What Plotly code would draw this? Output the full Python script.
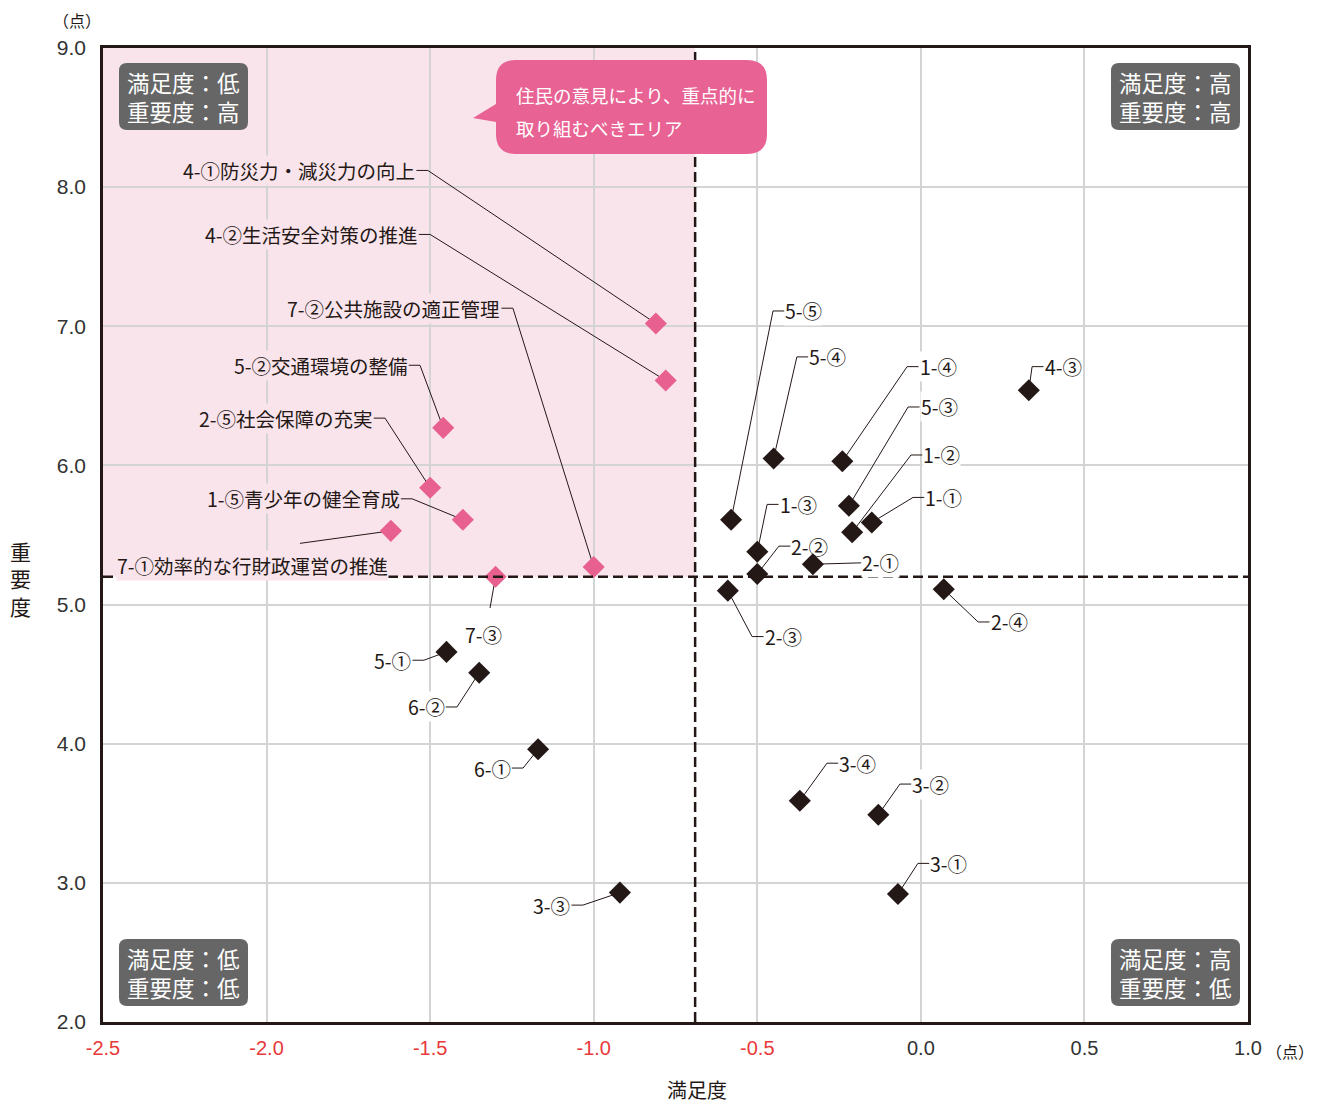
import plotly.graph_objects as go

# 施策ごとの満足度・重要度（点）
names = ["4-①", "4-②", "7-②", "5-②", "2-⑤", "1-⑤", "7-①", "7-③",
         "5-⑤", "5-④", "1-④", "4-③", "5-③", "1-②", "1-①", "1-③",
         "2-②", "2-①", "2-③", "2-④", "5-①", "6-②", "6-①", "3-④",
         "3-②", "3-①", "3-③"]
satisfaction = [-0.81, -0.78, -1.00, -1.46, -1.50, -1.40, -1.62, -1.30,
                -0.58, -0.45, -0.24, 0.33, -0.22, -0.21, -0.15, -0.50,
                -0.50, -0.33, -0.59, 0.07, -1.45, -1.35, -1.17, -0.37,
                -0.13, -0.07, -0.92]
importance = [7.02, 6.61, 5.27, 6.27, 5.84, 5.61, 5.53, 5.20,
              5.61, 6.05, 6.03, 6.54, 5.71, 5.52, 5.59, 5.38,
              5.22, 5.29, 5.10, 5.11, 4.66, 4.51, 3.96, 3.59,
              3.49, 2.92, 2.93]
full_names = {
    "4-①": "4-①防災力・減災力の向上",
    "4-②": "4-②生活安全対策の推進",
    "7-②": "7-②公共施設の適正管理",
    "5-②": "5-②交通環境の整備",
    "2-⑤": "2-⑤社会保障の充実",
    "1-⑤": "1-⑤青少年の健全育成",
    "7-①": "7-①効率的な行財政運営の推進",
}
highlight = ["4-①", "4-②", "7-②", "5-②", "2-⑤", "1-⑤", "7-①", "7-③"]

mean_sat = -0.69
mean_imp = 5.2

x_ticks = [-2.5, -2.0, -1.5, -1.0, -0.5, 0.0, 0.5, 1.0]
y_ticks = [2.0, 3.0, 4.0, 5.0, 6.0, 7.0, 8.0, 9.0]

# label elbow positions (data coords) and side of text
label_pos = {
    "4-①": (-1.507, 8.12, "l"), "4-②": (-1.50, 7.66, "l"),
    "7-②": (-1.247, 7.13, "l"), "5-②": (-1.531, 6.72, "l"),
    "2-⑤": (-1.638, 6.34, "l"), "1-⑤": (-1.555, 5.76, "l"),
    "7-①": (-1.898, 5.44, "b"), "7-③": (-1.317, 4.975, "b"),
    "5-⑤": (-0.452, 7.11, "r"), "5-④": (-0.379, 6.78, "r"),
    "1-④": (-0.042, 6.71, "r"), "4-③": (0.340, 6.71, "r"),
    "5-③": (-0.039, 6.42, "r"), "1-②": (-0.030, 6.075, "r"),
    "1-①": (-0.024, 5.77, "r"), "1-③": (-0.470, 5.72, "r"),
    "2-②": (-0.434, 5.42, "r"), "2-①": (-0.217, 5.30, "r"),
    "2-③": (-0.516, 4.77, "r"), "2-④": (0.175, 4.875, "r"),
    "5-①": (-1.519, 4.60, "l"), "6-②": (-1.418, 4.264, "l"),
    "6-①": (-1.216, 3.825, "l"), "3-④": (-0.287, 3.86, "r"),
    "3-②": (-0.064, 3.71, "r"), "3-①": (-0.009, 3.14, "r"),
    "3-③": (-1.033, 2.84, "l"),
}
below_shift = {"7-①": (-47, -7), "7-③": (-7, -11)}
no_bg = ["2-②"]

PINK = "#e8608f"
PINK_BG = "#fae4eb"
DARK = "#231815"
RED = "#e83a3a"
TICK = 0.035

# page offset of the plot div (body margin)
OFF = 8
W, H = 1322 - OFF, 1104 - OFF

# pixel helpers for decorations (reference page pixels)
X0, X1, PX0, PX1 = -2.5, 1.0, 103, 1248
Y0, Y1, PY0, PY1 = 2.0, 9.0, 1022, 48


def px_x(p):
    return X0 + (p - PX0) * (X1 - X0) / (PX1 - PX0)


def px_y(p):
    return Y0 + (p - PY0) * (Y1 - Y0) / (PY1 - PY0)


def paper_x(p):
    return (p - PX0) / (PX1 - PX0)


def paper_y(p):
    return (PY0 - p) / (PY0 - PY1)


def rounded_path(l, t, r, b, rad, tail=None):
    xs, ys = px_x, px_y
    pts = [f"M {xs(l + rad)},{ys(t)}", f"L {xs(r - rad)},{ys(t)}",
           f"Q {xs(r)},{ys(t)} {xs(r)},{ys(t + rad)}", f"L {xs(r)},{ys(b - rad)}",
           f"Q {xs(r)},{ys(b)} {xs(r - rad)},{ys(b)}", f"L {xs(l + rad)},{ys(b)}",
           f"Q {xs(l)},{ys(b)} {xs(l)},{ys(b - rad)}"]
    if tail:
        (ty0, tx, ty, ty1) = tail
        pts += [f"L {xs(l)},{ys(ty1)}", f"L {xs(tx)},{ys(ty)}", f"L {xs(l)},{ys(ty0)}"]
    pts += [f"L {xs(l)},{ys(t + rad)}", f"Q {xs(l)},{ys(t)} {xs(l + rad)},{ys(t)}", "Z"]
    return " ".join(pts)


fig = go.Figure()

# leader lines
lx, ly = [], []
for n, sx, sy in zip(names, satisfaction, importance):
    ex, ey, side = label_pos[n]
    lx += [sx, ex]
    ly += [sy, ey]
    if side == "r":
        lx.append(ex + TICK)
        ly.append(ey)
    elif side == "l":
        lx.append(ex - TICK)
        ly.append(ey)
    lx.append(None)
    ly.append(None)
fig.add_trace(go.Scatter(x=lx, y=ly, mode="lines",
                         line=dict(color=DARK, width=1), hoverinfo="skip",
                         showlegend=False))

colors = [PINK if n in highlight else DARK for n in names]
fig.add_trace(go.Scatter(x=satisfaction, y=importance, mode="markers",
                         marker=dict(symbol="diamond", size=17, color=colors,
                                     line=dict(width=0)),
                         text=names, showlegend=False))

# labels
for n in names:
    ex, ey, side = label_pos[n]
    txt = full_names.get(n, n)
    in_pink = ex < mean_sat and ey > mean_imp
    bg = PINK_BG if in_pink else "white"
    if n in no_bg:
        bg = "rgba(0,0,0,0)"
    common = dict(text=txt, showarrow=False, font=dict(size=19.5, color=DARK),
                  bgcolor=bg, borderpad=0)
    if side == "r":
        fig.add_annotation(x=ex + TICK, y=ey, xanchor="left", yanchor="middle", **common)
    elif side == "l":
        fig.add_annotation(x=ex - TICK, y=ey, xanchor="right", yanchor="middle", **common)
    else:
        dx, dy = below_shift[n]
        fig.add_annotation(x=ex, y=ey, xanchor="center", yanchor="top",
                           xshift=dx, yshift=dy, **common)

shapes = [
    dict(type="rect", x0=X0, x1=mean_sat, y0=mean_imp, y1=Y1, fillcolor=PINK_BG,
         line=dict(width=0), layer="below"),
    dict(type="line", x0=mean_sat, x1=mean_sat, y0=Y0, y1=Y1,
         line=dict(color=DARK, width=2.5, dash="10px,5px")),
    dict(type="line", x0=X0, x1=X1, y0=mean_imp, y1=mean_imp,
         line=dict(color=DARK, width=2.5, dash="10px,5px")),
]

# quadrant boxes
quads = [((119, 63, 248, 130), "満足度：低<br>重要度：高"),
         ((1111, 63, 1240, 130), "満足度：高<br>重要度：高"),
         ((119, 939, 248, 1006), "満足度：低<br>重要度：低"),
         ((1111, 939, 1240, 1006), "満足度：高<br>重要度：低")]
for (l, t, r, b), txt in quads:
    shapes.append(dict(type="path", path=rounded_path(l, t, r, b, 8),
                       fillcolor="#666666", line=dict(width=0)))
    fig.add_annotation(x=px_x((l + r) / 2), y=px_y((t + b) / 2), text=txt,
                       showarrow=False, font=dict(size=22.5, color="white"),
                       align="left")

# callout
shapes.append(dict(type="path",
                   path=rounded_path(496, 60, 767, 154, 20, tail=(104, 473, 118, 122)),
                   fillcolor="#e86294", line=dict(width=0)))
fig.add_annotation(x=px_x(514), y=px_y(95), text="住民の意見により、重点的に",
                   xanchor="left", showarrow=False, font=dict(size=18.5, color="white"))
fig.add_annotation(x=px_x(514), y=px_y(128), text="取り組むべきエリア",
                   xanchor="left", showarrow=False, font=dict(size=18.5, color="white"))

# axis units and titles
axis_texts = [(77, 20, "（点）", 16), (1290, 1051, "（点）", 16),
              (697, 1089, "満足度", 20), (20, 578, "重<br>要<br>度", 21)]
for px, py, txt, sz in axis_texts:
    fig.add_annotation(xref="paper", yref="paper", x=paper_x(px), y=paper_y(py),
                       xanchor="center", yanchor="middle", text=txt,
                       showarrow=False, font=dict(size=sz, color=DARK))

x_text = [f"<span style='color:{RED}'>{v:.1f}</span>" if v < 0 else f"{v:.1f}"
          for v in x_ticks]

fig.update_layout(
    width=W, height=H,
    margin=dict(l=PX0 - OFF, r=1322 - PX1, t=PY1 - OFF, b=1104 - PY0),
    plot_bgcolor="white", paper_bgcolor="white",
    font=dict(family="Noto Sans CJK JP, Noto Sans, sans-serif", color=DARK),
    shapes=shapes,
)
fig.update_xaxes(range=[X0, X1], tickvals=x_ticks, ticktext=x_text,
                 showgrid=True, gridcolor="#d4d4d4", gridwidth=2, zeroline=False,
                 showline=True, linecolor=DARK, linewidth=2.5, mirror=True,
                 ticks="", ticklabelstandoff=6,
                 tickfont=dict(size=20, color="#333333",
                               family="Liberation Sans, Arial, sans-serif"))
fig.update_yaxes(range=[Y0, Y1], tickvals=y_ticks,
                 ticktext=[f"{v:.1f}" for v in y_ticks],
                 showgrid=True, gridcolor="#d4d4d4", gridwidth=2, zeroline=False,
                 showline=True, linecolor=DARK, linewidth=2.5, mirror=True,
                 ticks="", ticklabelstandoff=10,
                 tickfont=dict(size=21, color="#333333",
                               family="Liberation Sans, Arial, sans-serif"))

fig.write_html("out.html")
